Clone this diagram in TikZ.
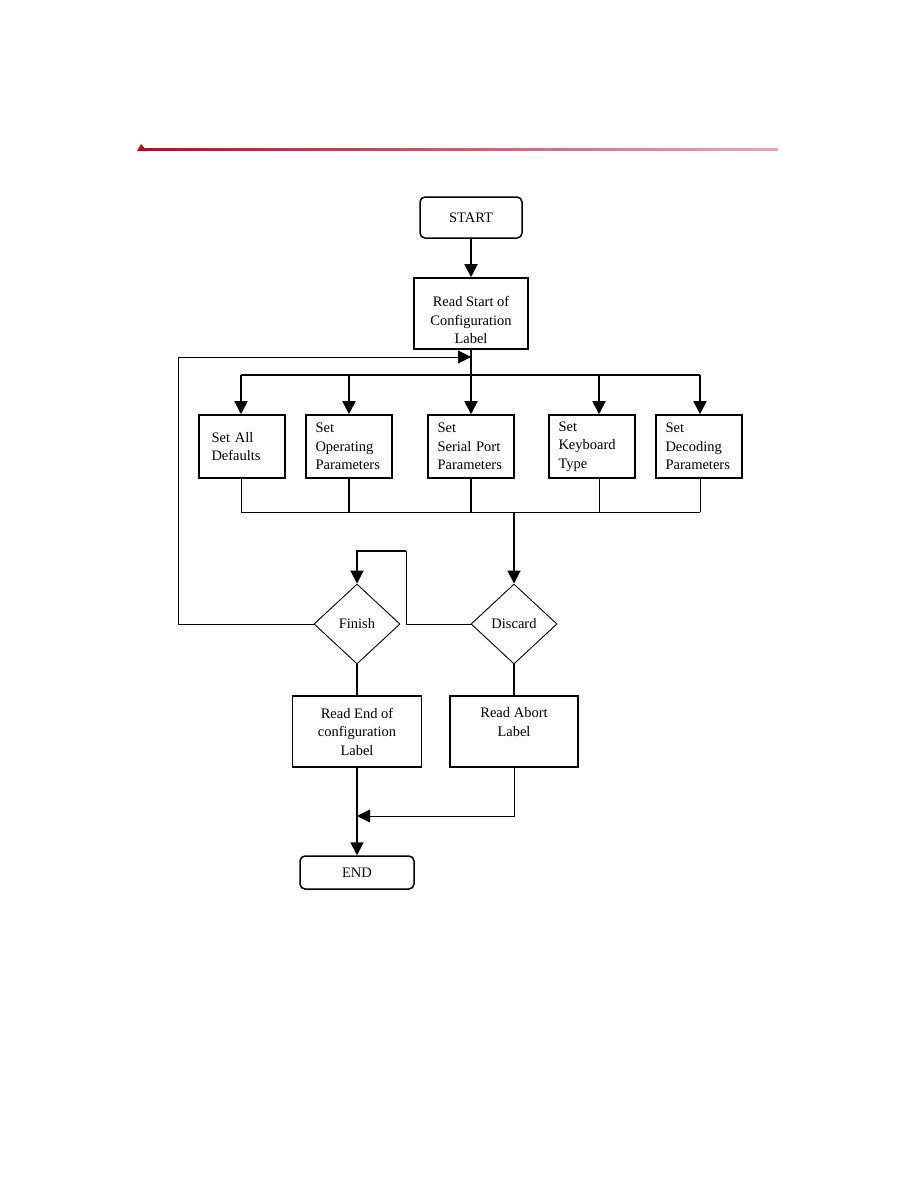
\documentclass[tikz,border=0pt]{standalone}
\usepackage{fontspec}
\setmainfont{Liberation Serif}
\usetikzlibrary{arrows.meta,shapes.geometric}
\definecolor{rulestart}{RGB}{175,15,45}
\definecolor{ruleend}{RGB}{235,165,180}
\begin{document}
\begin{tikzpicture}[x=1pt,y=-1pt,
  every node/.style={font=\fontsize{14.5}{18.5}\selectfont},
  thk/.style={line width=1.8pt},
  thn/.style={line width=0.9pt},
  arr/.style={-{Triangle[length=13pt,width=13pt]}},
  box/.style={draw, line width=1.6pt, inner sep=0pt},
  setbox/.style={box, minimum width=86pt, minimum height=63pt, text width=67pt, align=left},
  rbox/.style={draw, line width=1.5pt, rounded corners=5pt, inner sep=0pt},
  dia/.style={draw, diamond, line width=0.9pt, minimum width=86pt, minimum height=80pt, inner sep=0pt}
]
\useasboundingbox (0,0) rectangle (918,1188);
% header rule
\shade[left color=rulestart, right color=ruleend] (140,148) rectangle (778,150.2);
\fill[rulestart] (137,151) -- (141,144) -- (147,151) -- cycle;

% nodes
\node[rbox, minimum width=102pt, minimum height=41pt] (start) at (471,217.5) {START};
\node[box, minimum width=114pt, minimum height=71pt] (rs) at (471,313.5) {};
\node[align=center, inner sep=0pt] (rst) at (471,320) {Read Start of\\Configuration\\Label};

\node[setbox, text width=61pt] (d1) at (242,446.5) {Set All\\Defaults};
\node[setbox] (d2) at (349,446.5) {Set\\Operating\\Parameters};
\node[setbox] (d3) at (471,446.5) {Set\\Serial Port\\Parameters};
\node[setbox] (d4) at (592,446.5) {Set\\Keyboard\\Type};
\node[setbox] (d5) at (699,446.5) {Set\\Decoding\\Parameters};

\node[dia] (finish) at (357,624) {Finish};
\node[dia] (discard) at (514,624) {Discard};

\node[box, line width=1.3pt, minimum width=129pt, minimum height=71pt, align=center] (re) at (357,731.5) {Read End of\\configuration\\Label};
\node[box, line width=1.3pt, minimum width=128pt, minimum height=71pt] (ra) at (514,731.5) {};
\node[align=center, inner sep=0pt] (rat) at (514,722) {Read Abort\\Label};

\node[rbox, minimum width=114pt, minimum height=33pt] (end) at (357,872.5) {END};

% coordinates
\coordinate (bL) at (241,375);
\coordinate (bR) at (700,375);
\coordinate (b4) at (599,375);
\coordinate (cL) at (241,512);
\coordinate (cR) at (700,512);
\coordinate (m) at (514,512);
\coordinate (l1) at (406,551);
\coordinate (f1) at (178,357);
\coordinate (j) at (514,816);

% connectors
\draw[thk,arr] (start) -- (rs);
\draw[thk] (rs.south) -- (rs.south |- bL);
\draw[thk] (bL) -- (bR);
\draw[thk,arr] (bL) -- (bL |- d1.north);
\draw[thk,arr] (d2.north |- bL) -- (d2.north);
\draw[thk,arr] (d3.north |- bL) -- (d3.north);
\draw[thk,arr] (b4) -- (b4 |- d4.north);
\draw[thk,arr] (bR) -- (bR |- d5.north);

\draw[thn] (d1.south -| cL) -- (cL);
\draw[thk] (d2.south) -- (d2.south |- cL);
\draw[thk] (d3.south) -- (d3.south |- cL);
\draw[thn] (b4 |- d4.south) -- (b4 |- cL);
\draw[thn] (cR |- d5.south) -- (cR);
\draw[thn] (cL) -- (cR);
\draw[thk,arr] (m) -- (discard.north);

\draw[thn] (discard.west) -| (l1);
\draw[thk,arr] (l1) -| (finish.north);
\draw[thn,arr] (finish.west) -| (f1) -- (rs.south |- f1);

\draw[thk] (finish.south) -- (re.north);
\draw[thk] (discard.south) -- (ra.north);
\draw[thk,arr] (re) -- (end);
\draw[thn,arr] (ra.south) -- (j) -- (re.south |- j);
\end{tikzpicture}
\end{document}
